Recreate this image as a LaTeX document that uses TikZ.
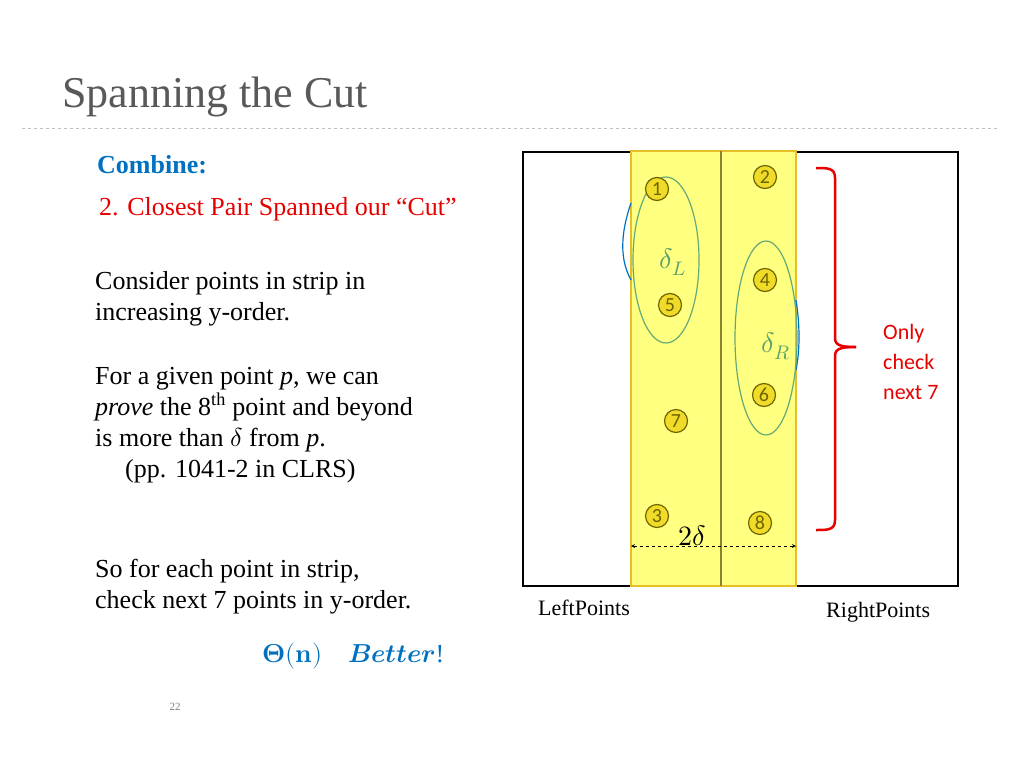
\documentclass[tikz,border=0pt]{standalone}
\usepackage{fontspec}
\usepackage{unicode-math}
\setmainfont{Liberation Serif}
\newfontfamily\carlfont{Carlito}
\setmathfont{Latin Modern Math}
\definecolor{ttl}{RGB}{89,89,89}
\definecolor{cblue}{RGB}{0,112,192}
\definecolor{cred}{RGB}{230,0,0}
\definecolor{strip}{RGB}{255,255,128}
\definecolor{stripe}{RGB}{230,190,40}
\definecolor{ptfill}{RGB}{240,220,40}
\definecolor{ptline}{RGB}{110,100,0}
\definecolor{ell}{RGB}{100,170,120}
\definecolor{bgreen}{RGB}{90,160,110}
\begin{document}
\begin{tikzpicture}[x=1pt,y=-1pt,
  body/.style={anchor=west,font=\fontsize{26}{31}\selectfont,align=left,inner sep=0},
  pt/.style={circle,draw=ptline,fill=ptfill,line width=1.2pt,minimum size=23pt,inner sep=0,font=\carlfont\fontsize{20}{20}\selectfont,text=ptline}]
\useasboundingbox (0,0) rectangle (1024,768);
\node[anchor=west,text=ttl,font=\fontsize{44}{44}\selectfont,inner sep=0] (title) at (62,97) {Spanning the Cut};
\draw[gray!50,dashed,line width=0.8pt] (22,128) -- (1000,128);
\node[body,text=cblue,font=\bfseries\fontsize{26}{31}\selectfont] (comb) at (97,165) {Combine:};
\node[body,text=cred] (cp) at (99,209) {2. Closest Pair Spanned our “Cut”};
\node[body] (t1) at (95,299) {Consider points in strip in\\increasing y-order.};
\node[body] (t2) at (95,425) {For a given point \textit{p}, we can\\\textit{prove} the 8\textsuperscript{th} point and beyond\\is more than $\delta$ from \textit{p}.\\\hspace{30pt}(pp. 1041-2 in CLRS)};
\node[body] (t3) at (95,587) {So for each point in strip,\\check next 7 points in y-order.};
\node[anchor=west,text=cblue,inner sep=0,font=\fontsize{26}{26}\selectfont] (th) at (262,656) {$\symbf{\Theta(n)}\quad\symbfit{Better}$!};
\node[font=\fontsize{11}{11}\selectfont,text=gray] (num) at (175,707) {22};
% diagram
\draw[line width=1.5pt] (523,152) rectangle (958,586);
\fill[strip,draw=stripe,line width=1.5pt] (631,151) rectangle (796,586);
\draw[ptline!80,line width=2pt] (721,151) -- (721,586);
\draw[cblue,line width=1.2pt] (631,203) .. controls (620,235) and (620,260) .. (631,280);
\draw[cblue,line width=1.2pt] (796,300) .. controls (800,325) and (800,350) .. (796,370);
\draw[ell,line width=1.2pt] (666,260) ellipse (33 and 83);
\draw[ell,line width=1.2pt] (766,338) ellipse (31 and 97);
\node[text=bgreen,font=\fontsize{28}{28}\selectfont] (dl) at (673,262) {$\delta_L$};
\node[text=bgreen,font=\fontsize{28}{28}\selectfont] (dr) at (776,346) {$\delta_R$};
\node[pt] (p1) at (657,189) {1};
\node[pt] (p2) at (765,177) {2};
\node[pt] (p4) at (765,280) {4};
\node[pt] (p5) at (670,305) {5};
\node[pt] (p6) at (764,395) {6};
\node[pt] (p7) at (676,421) {7};
\node[pt] (p3) at (657,516) {3};
\node[pt] (p8) at (760,523) {8};
\coordinate (al) at (631,546);
\coordinate (ar) at (796,546);
\draw[dashed,<->,>=stealth,line width=0.8pt] (al) -- (ar);
\node[font=\fontsize{28}{28}\selectfont] (td) at (692,536) {$2\delta$};
\draw[cred,line width=2.5pt] (816,168) .. controls (828,168) and (835,168) .. (835,178) -- (835,338) .. controls (835,345) and (840,347) .. (856,347);
\draw[cred,line width=2.5pt] (816,530) .. controls (828,530) and (835,530) .. (835,520) -- (835,356) .. controls (835,349) and (840,347) .. (856,347);
\node[anchor=west,text=cred,font=\carlfont\fontsize{22}{30}\selectfont,align=left,inner sep=0] (only) at (883,362) {Only\\check\\next 7};
\node[anchor=west,font=\fontsize{22}{22}\selectfont,inner sep=0] (lp) at (538,608) {LeftPoints};
\node[anchor=west,font=\fontsize{22}{22}\selectfont,inner sep=0] (rp) at (826,612) {RightPoints};
\end{tikzpicture}
\end{document}
